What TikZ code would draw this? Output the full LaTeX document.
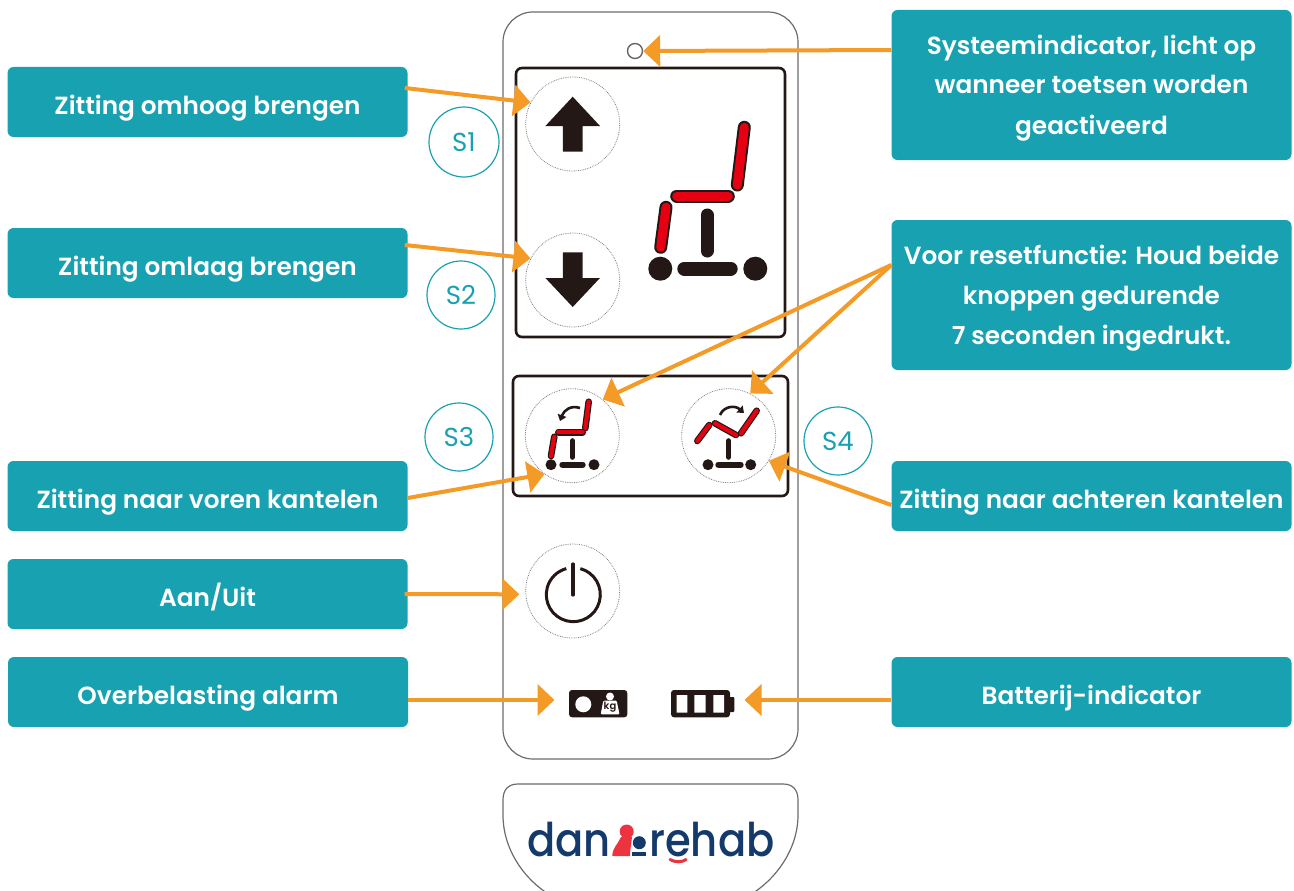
\documentclass[tikz,border=0pt]{standalone}
\usepackage{fontspec}
\setmainfont[BoldFont={Poppins SemiBold}]{Poppins}
\newfontfamily\logofont{Poppins Medium}
\usetikzlibrary{arrows.meta}
\definecolor{boxteal}{HTML}{18A1B0}
\definecolor{arroworange}{HTML}{F49A26}
\definecolor{ink}{HTML}{231815}
\definecolor{segred}{HTML}{E60012}
\definecolor{logonavy}{HTML}{133A6B}
\definecolor{logored}{HTML}{EC3340}
\tikzset{
  infobox/.style={fill=boxteal,rounded corners=6pt,minimum width=400pt,minimum height=70pt,inner sep=0pt,
    text=white,align=center,font=\fontsize{24.8}{40}\selectfont\bfseries,text height=24pt,text depth=0pt},
  tallbox/.style={infobox,minimum height=150pt,text height=98pt,text depth=0pt},
  pointer/.style={->,draw=arroworange,line width=4pt},
  tag/.style={circle,draw=boxteal,line width=1.2pt,minimum size=68pt,inner sep=0pt,text=boxteal,font=\fontsize{26}{28}\selectfont},
  keycircle/.style={circle,draw=gray,densely dotted,line width=0.8pt,minimum size=94pt,inner sep=0pt},
  shell/.style={draw=gray!85!black,line width=1.2pt},
  panel/.style={draw=ink,line width=2.6pt,rounded corners=6pt},
  blackseg/.style={draw=ink,line cap=round},
  redseg/.style={draw=ink,line width=2pt,double=segred,double distance=9pt,line cap=round},
  smallred/.style={draw=ink,line width=1.2pt,double=segred,double distance=4.2pt,line cap=round},
  logotext/.style={logonavy,inner sep=0pt,anchor=base west,font=\logofont\fontsize{43}{43}\selectfont}
}
\begin{document}
\begin{tikzpicture}[x=1pt,y=-1pt,>={Triangle[length=17pt,width=31pt]}]
\useasboundingbox (0,0) rectangle (1294,891);
% housing and logo plate
\draw[shell,rounded corners=30pt] (503,12) rectangle (798,759);
\draw[shell] (503,800) .. controls (503,790) and (508,784) .. (518,784)--(783,784) .. controls (793,784) and (798,790) .. (798,800)--(798,815) .. controls (798,850) and (775,880) .. (750,895)--(550,895) .. controls (525,880) and (503,850) .. (503,815)--cycle;
\draw[panel] (516,68) rectangle (785,337);
\draw[panel] (513,376) rectangle (788,496);
% keys
\node[keycircle] (keyup) at (572.7,124) {};
\node[keycircle] (keydown) at (572.7,280) {};
\node[keycircle] (keyfwd) at (572.3,435.7) {};
\node[keycircle] (keyback) at (728.7,435.7) {};
\node[keycircle] (keypower) at (572.7,591) {};
\node[circle,draw=gray!80!black,line width=1.4pt,minimum size=15pt,inner sep=0pt] (sysled) at (635,51) {};
% arrows on the keys
\fill[ink] (572.7,96.7)--(600,126)--(582.5,126)--(582.5,151.7)--(562.9,151.7)--(562.9,126)--(545.4,126)--cycle;
\fill[ink] (572.7,307)--(600,278)--(582.5,278)--(582.5,252.3)--(562.9,252.3)--(562.9,278)--(545.4,278)--cycle;
% big chair
\draw[redseg] (744.3,127.3)--(737.3,185);
\draw[redseg] (676.7,196)--(728.3,196);
\draw[redseg] (666,207.3)--(660.7,247.3);
\draw[blackseg,line width=13pt] (707,215)--(707,251);
\draw[blackseg,line width=14pt] (684.3,268.7)--(730.7,268.7);
\fill[ink] (660.3,268.7) circle (12) (755.3,268.7) circle (12);
% forward tilt chair
\draw[smallred] (588.7,401.7)--(585.3,428.3);
\draw[smallred] (558.3,432.3)--(582.7,432.3);
\draw[smallred] (554.3,436.7)--(551,456);
\draw[blackseg,line width=5pt] (572.3,440.7)--(572.3,457.3);
\draw[blackseg,line width=6pt] (562.3,464.7)--(582.7,464.7);
\fill[ink] (551,464.7) circle (5.5) (594,464.7) circle (5.5);
\draw[-{Triangle[length=6pt,width=9pt]},ink,line width=2.6pt] (580,408) .. controls (571,405) and (564,410) .. (560,421);
% backward tilt chair
\draw[smallred] (756.7,410.7)--(741,433.3);
\draw[smallred] (715,423.3)--(736,435);
\draw[smallred] (709.3,425)--(697.3,441);
\draw[blackseg,line width=5pt] (728.7,440.7)--(728.7,457.3);
\draw[blackseg,line width=6pt] (718.3,464.7)--(740.7,464.7);
\fill[ink] (708,464.7) circle (5.5) (750.7,464.7) circle (5.5);
\draw[-{Triangle[length=6pt,width=9pt]},ink,line width=2.6pt] (720,415) .. controls (724,406) and (735,405) .. (744,413);
% power symbol
\draw[ink,line width=3pt] (580.3,568.6) arc[start angle=-75,end angle=255,radius=27];
\draw[ink,line width=3.2pt,line cap=round] (573,564)--(573,595);
% load indicator
\fill[ink,rounded corners=3pt] (569,690) rectangle (627.3,717.3);
\fill[white] (583.3,704.3) circle (8) (610,696.5) circle (4);
\fill[white,rounded corners=1pt] (603.3,700.7)--(616.7,700.7)--(619.5,714.3)--(600.7,714.3)--cycle;
\node[inner sep=0pt,ink,font=\fontsize{10}{10}\selectfont\bfseries] (kgtext) at (610,707) {kg};
% battery indicator
\fill[ink,rounded corners=3pt] (671,690) rectangle (730,717.3);
\fill[ink,rounded corners=1pt] (728,697) rectangle (734.3,712);
\fill[white] (676.7,695) rectangle (687.3,712.7) (694.3,695) rectangle (705.7,712.7) (713.3,695) rectangle (724,712.7);
% logo
\node[logotext] (logodan) at (527,856) {\scalebox{0.97}[1.08]{dan}};
\node[logotext] (logorehab) at (649,856) {\scalebox{0.97}[1.08]{rehab}};
\fill[logored] (626.7,831.5) circle (7);
\fill[logored] (612.3,856) .. controls (612.3,848) and (618,844) .. (621,837)--(632,837) .. controls (631,846) and (630,850) .. (630,856)--cycle;
\fill[logonavy] (639.3,842.7) circle (6.5);
\fill[logonavy] (631.7,851.5)--(645.7,851.5)--(645.7,856)--(631.7,856)--cycle;
\draw[logored,line width=3pt,line cap=round] (670,859.5) .. controls (675,862.5) and (682,862.5) .. (686,859.5);
% text boxes
\node[infobox] (raise) at (207.5,102) {Zitting omhoog brengen};
\node[infobox] (lower) at (207.5,263) {Zitting omlaag brengen};
\node[infobox] (tiltfwd) at (207.5,496) {Zitting naar voren kantelen};
\node[infobox] (power) at (207.5,594) {Aan/Uit};
\node[infobox] (alarm) at (208,692) {Overbelasting alarm};
\node[tallbox] (sysbox) at (1091.5,85) {Systeemindicator, licht op\\wanneer toetsen worden\\geactiveerd};
\node[tallbox] (reset) at (1091.5,295) {Voor resetfunctie: Houd beide\\knoppen gedurende\\7 seconden ingedrukt.};
\node[infobox] (tiltback) at (1091.5,496) {Zitting naar achteren kantelen};
\node[infobox] (batt) at (1091.5,692) {Batterij-indicator};
% S labels
\node[tag,minimum size=70pt] (s1) at (464,142) {S1};
\node[tag] (s2) at (461,295) {S2};
\node[tag] (s3) at (459,437) {S3};
\node[tag] (s4) at (838,441) {S4};
% connectors
\coordinate (loadtip) at (554.5,700);
\coordinate (batttip) at (744.5,700);
\draw[pointer] ([xshift=-3pt,yshift=14pt]raise.east)--(keyup.153);
\draw[pointer] ([xshift=-3pt,yshift=18pt]lower.east)--(keydown.153);
\draw[pointer] ([yshift=-2pt]tiltfwd.east)--(keyfwd.234);
\draw[pointer] ([xshift=-3pt]power.east)--([xshift=-6pt,yshift=-3.3pt]keypower.west);
\draw[pointer] ([yshift=-8pt]alarm.east)--(loadtip);
\draw[pointer] ([yshift=35pt]sysbox.west)--(sysled.east);
\draw[pointer] ([yshift=30pt]reset.west)--(keyfwd.50);
\draw[pointer] ([yshift=30pt]reset.west)--(keyback.63);
\draw[pointer] ([yshift=-9pt]tiltback.west)--(keyback.-32);
\draw[pointer] ([yshift=-8pt]batt.west)--(batttip);
\end{tikzpicture}
\end{document}
